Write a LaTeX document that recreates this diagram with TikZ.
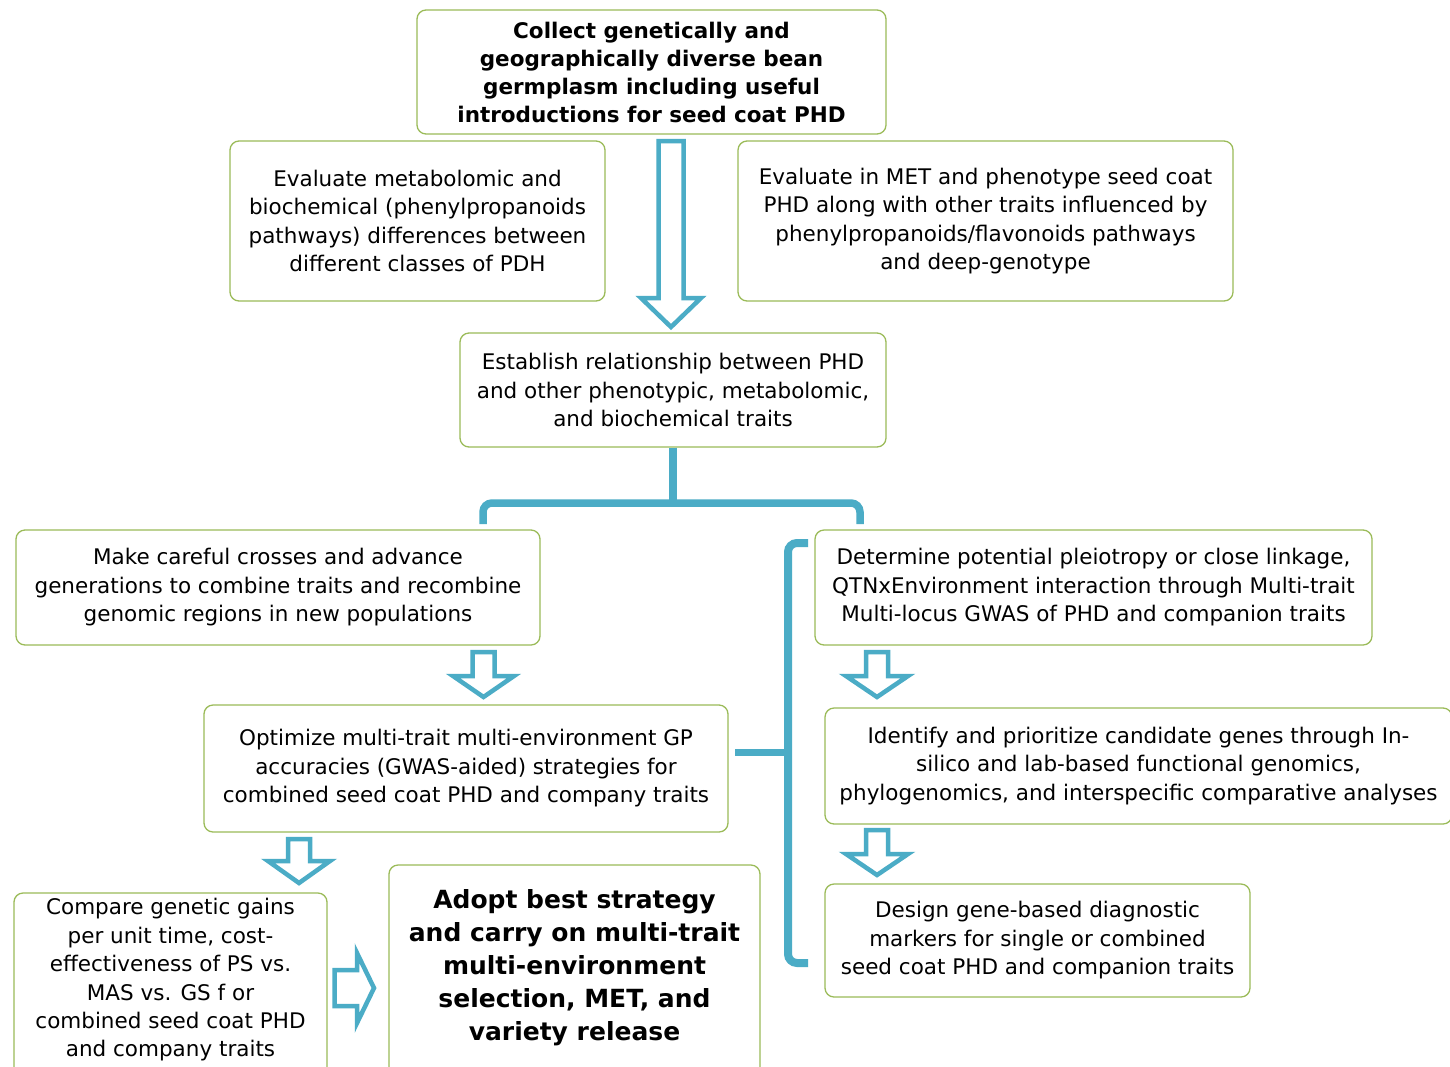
\documentclass[tikz,border=0pt]{standalone}
\usepackage{fontspec}
\setmainfont{DejaVu Sans}
\definecolor{tealc}{HTML}{4BACC6}
\definecolor{grnc}{HTML}{9BBB59}
\tikzset{
  box/.style={draw=grnc, line width=1.3pt, rounded corners=9pt, fill=white, align=center, inner sep=0pt,
    font=\fontsize{21.5}{28.5}\selectfont},
  boldbox/.style={box, font=\fontsize{21.5}{28}\selectfont\bfseries},
  plain/.style={align=center, inner sep=0pt},
  hollow/.style={draw=tealc, line width=4.5pt, fill=white, line join=miter},
  conn/.style={draw=tealc, line width=7.5pt, rounded corners=9pt},
}
\begin{document}
\begin{tikzpicture}[x=1pt,y=-1pt]
\useasboundingbox (0,0) rectangle (1450,1066);
\clip (0,0) rectangle (1450,1066);
\fill[white] (0,0) rectangle (1450,1066);

\node[boldbox, minimum width=469pt, minimum height=124pt] (collect) at (651.5,72)
  {Collect genetically and\\geographically diverse bean\\germplasm including useful\\introductions for seed coat PHD};
\node[box, minimum width=375pt, minimum height=160pt] (evalL) at (417.5,221)
  {Evaluate metabolomic and\\biochemical (phenylpropanoids\\pathways) differences between\\different classes of PDH};
\node[box, minimum width=495pt, minimum height=160pt] (evalR) at (985.5,221)
  {Evaluate in MET and phenotype seed coat\\PHD along with other traits influenced by\\phenylpropanoids/flavonoids pathways\\and deep-genotype};
\node[box, minimum width=426pt, minimum height=114pt] (estab) at (673,390)
  {Establish relationship between PHD\\and other phenotypic, metabolomic,\\and biochemical traits};
\node[box, minimum width=524pt, minimum height=115pt] (cross) at (278,587.5)
  {Make careful crosses and advance\\generations to combine traits and recombine\\genomic regions in new populations};
\node[box, minimum width=557pt, minimum height=115pt] (determ) at (1093.5,587.5)
  {Determine potential pleiotropy or close linkage,\\QTNxEnvironment interaction through Multi-trait\\Multi-locus GWAS of PHD and companion traits};
\node[box, minimum width=524pt, minimum height=127pt] (optim) at (466,768.5)
  {Optimize multi-trait multi-environment GP\\accuracies (GWAS-aided) strategies for\\combined seed coat PHD and company traits};
\node[box, minimum width=627pt, minimum height=116pt] (ident) at (1138.5,766)
  {Identify and prioritize candidate genes through In-\\silico and lab-based functional genomics,\\phylogenomics, and interspecific comparative analyses};
\node[box, minimum width=313pt, minimum height=186pt] (compbox) at (170.5,986) {};
\node[plain, font=\fontsize{21.5}{28.4}\selectfont] (comp) at (170.5,980)
  {Compare genetic gains\\per unit time, cost-\\effectiveness of PS vs.\\MAS vs. GS f or\\combined seed coat PHD\\and company traits};
\node[box, minimum width=371pt, minimum height=220pt] (adoptbox) at (574.5,975) {};
\node[plain, font=\bfseries\fontsize{25}{33}\selectfont] (adopt) at (574.5,968)
  {Adopt best strategy\\and carry on multi-trait\\multi-environment\\selection, MET, and\\variety release};
\node[box, minimum width=425pt, minimum height=113pt] (design) at (1037.5,940.5)
  {Design gene-based diagnostic\\markers for single or combined\\seed coat PHD and companion traits};

% big hollow arrow
\draw[hollow] (658.5,141) -- (683.5,141) -- (683.5,298) -- (701,298) -- (671,327) -- (641,298) -- (658.5,298) -- cycle;
% small hollow arrows
\draw[hollow] (472.5,652) -- (494.5,652) -- (494.5,676) -- (514,676) -- (483.5,697) -- (453,676) -- (472.5,676) -- cycle;
\draw[hollow] (866,652) -- (888,652) -- (888,676) -- (908,676) -- (877,697) -- (846,676) -- (866,676) -- cycle;
\draw[hollow] (866,830) -- (888,830) -- (888,854) -- (908,854) -- (877,875) -- (846,854) -- (866,854) -- cycle;
\draw[hollow] (288,839) -- (310,839) -- (310,861) -- (330,861) -- (299,883) -- (268,861) -- (288,861) -- cycle;
\draw[hollow] (334.5,970) -- (357,970) -- (357,953) -- (374,988) -- (357,1023) -- (357,1006) -- (334.5,1006) -- cycle;

% tree connector
\draw[conn] (estab.south) -- ++(0,57);
\coordinate (tl) at (483,524);
\coordinate (tr) at (860,524);
\draw[conn] (tl) -- (483,503) -- (860,503) -- (tr);

% bracket
\coordinate (bt) at (808,543);
\coordinate (bb) at (808,963);
\draw[conn, line width=8pt] (bt) -- (788,543) -- (788,963) -- (bb);
\coordinate (bm) at (735,752);
\draw[conn, line width=7pt] (bm) -- (788,752);
\end{tikzpicture}
\end{document}
